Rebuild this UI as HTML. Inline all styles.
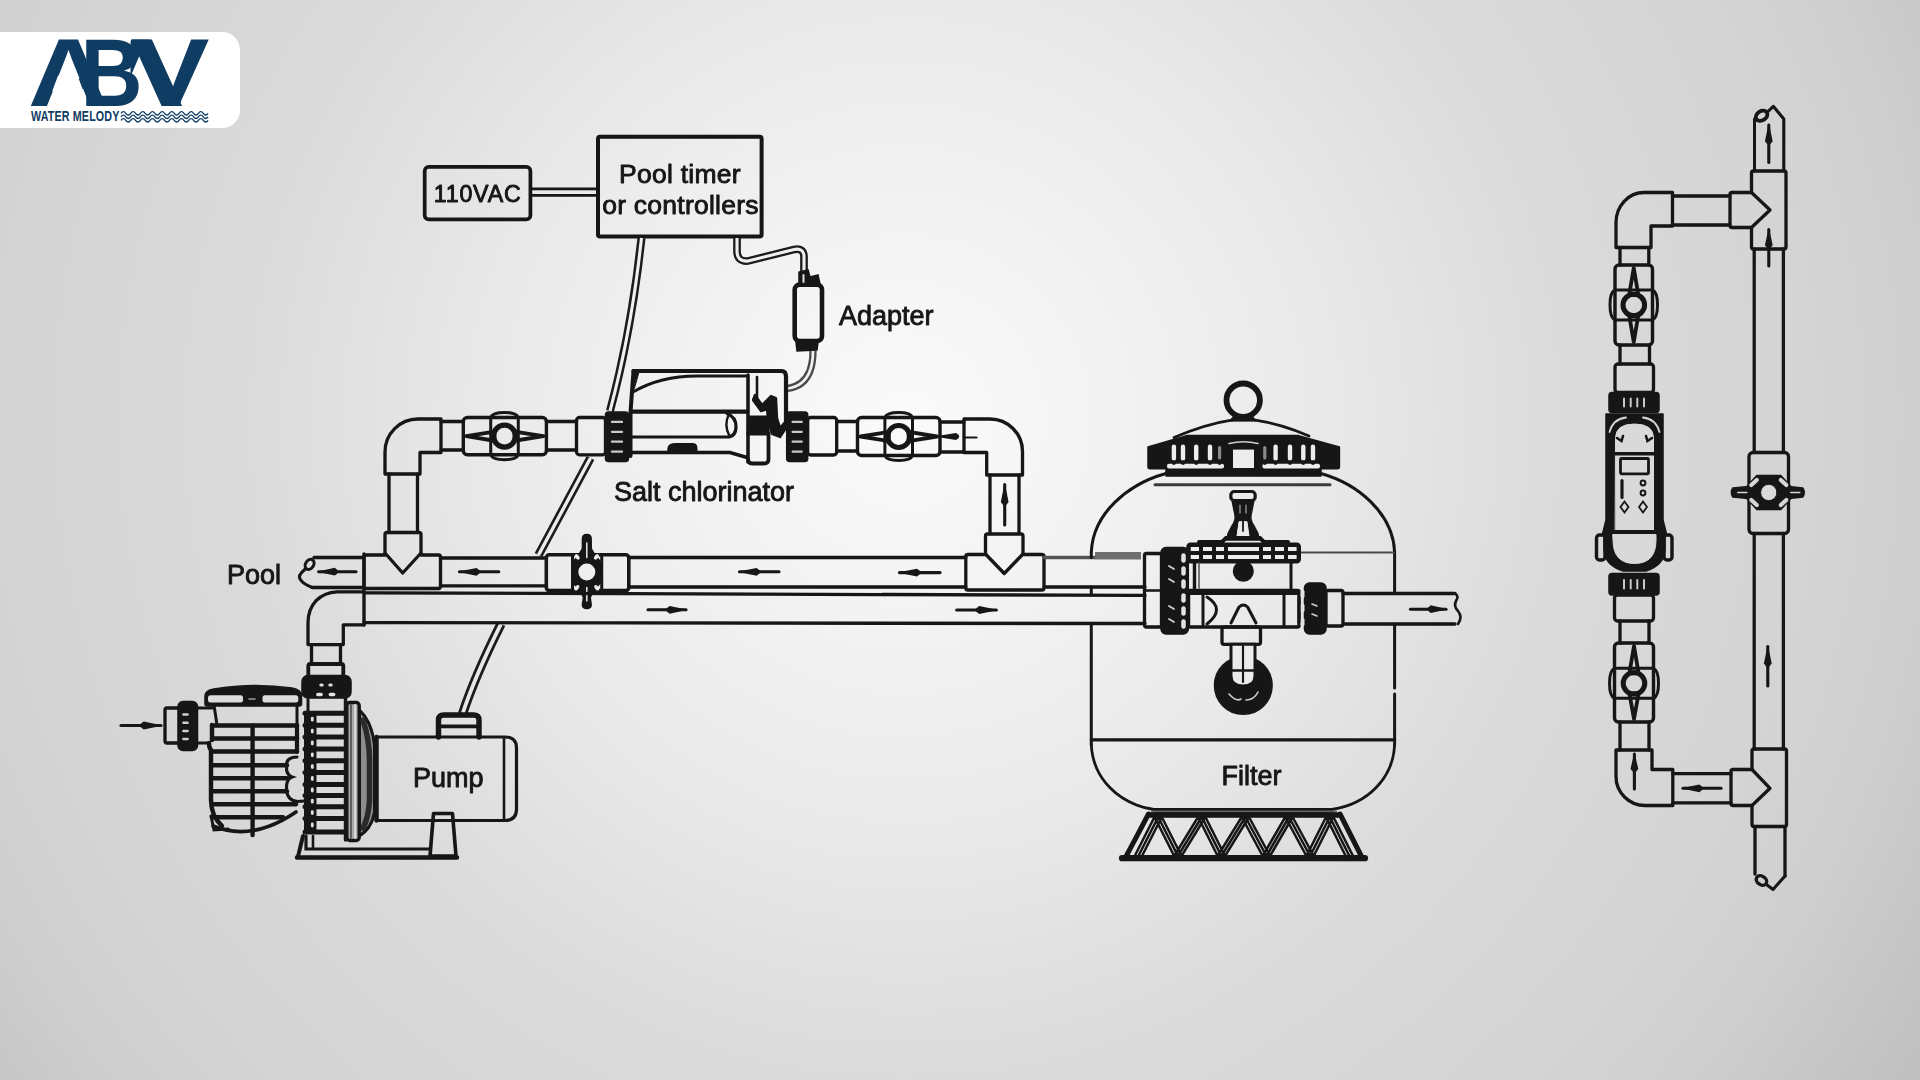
<!DOCTYPE html>
<html lang="en"><head><meta charset="utf-8"><title>Salt chlorinator installation diagram</title>
<style>
html,body{margin:0;padding:0;}
body{width:1920px;height:1080px;overflow:hidden;position:relative;
background:radial-gradient(circle 1210px at 905px 420px,#fafafa 0%,#f6f6f6 10%,#f1f1f1 20%,#e9e9e9 35%,#dbdbdb 54%,#d3d3d3 77%,#cecece 85%,#c7c7c7 92%,#bfbfbf 100%);
font-family:"Liberation Sans",sans-serif;}
.logo{position:absolute;left:0;top:32px;width:240px;height:96px;background:#fff;border-radius:0 18px 18px 0;}
svg{position:absolute;left:0;top:0;}
svg text{font-family:"Liberation Sans",sans-serif;}
#art text{fill:#141414;stroke:#141414;stroke-width:0.85px;stroke-linejoin:round;}
</style></head>
<body>
<div class="logo"></div>
<svg width="1920" height="1080" viewBox="0 0 1920 1080">
<defs><filter id="soft" x="-2%" y="-2%" width="104%" height="104%"><feGaussianBlur stdDeviation="0.55"/></filter></defs>
<g id="logo">
<clipPath id="a2clip"><rect x="130.5" y="30" width="100" height="80"/></clipPath>
<g font-family="Liberation Sans, sans-serif" font-weight="bold" fill="#0f3c63">
<g transform="translate(27.9,106.3) scale(1.156,1)"><text font-size="97" x="0" y="0">A</text><polygon points="26.0,-30.5 43.0,-30.5 48.0,-15 21.0,-15" fill="#ffffff"/></g>
<g clip-path="url(#a2clip)"><g transform="translate(98,106.3) scale(1.246,1)"><text font-size="97" x="0" y="0">A</text><polygon points="26.0,-30.5 43.0,-30.5 48.0,-15 21.0,-15" fill="#ffffff"/></g></g>
<text transform="translate(80.5,106.3) scale(0.885,1)" font-size="97" x="0" y="0">B</text>
<text transform="translate(130.8,106.3) scale(1.218,1)" font-size="97" x="0" y="0">V</text>
<text transform="translate(31,121.3) scale(0.735,1)" font-size="14.6" x="0" y="0" letter-spacing="0.2">WATER MELODY</text>
</g>
<path d="M121,113.3 q2.42,-3.3 4.84,0 q2.42,3.3 4.84,0 q2.42,-3.3 4.84,0 q2.42,3.3 4.84,0 q2.42,-3.3 4.84,0 q2.42,3.3 4.84,0 q2.42,-3.3 4.84,0 q2.42,3.3 4.84,0 q2.42,-3.3 4.84,0 q2.42,3.3 4.84,0 q2.42,-3.3 4.84,0 q2.42,3.3 4.84,0 q2.42,-3.3 4.84,0 q2.42,3.3 4.84,0 q2.42,-3.3 4.84,0 q2.42,3.3 4.84,0 q2.42,-3.3 4.84,0 q2.42,3.3 4.84,0" fill="none" stroke="#0f3c63" stroke-width="1.35"/>
<path d="M121,116.8 q2.42,-3.3 4.84,0 q2.42,3.3 4.84,0 q2.42,-3.3 4.84,0 q2.42,3.3 4.84,0 q2.42,-3.3 4.84,0 q2.42,3.3 4.84,0 q2.42,-3.3 4.84,0 q2.42,3.3 4.84,0 q2.42,-3.3 4.84,0 q2.42,3.3 4.84,0 q2.42,-3.3 4.84,0 q2.42,3.3 4.84,0 q2.42,-3.3 4.84,0 q2.42,3.3 4.84,0 q2.42,-3.3 4.84,0 q2.42,3.3 4.84,0 q2.42,-3.3 4.84,0 q2.42,3.3 4.84,0" fill="none" stroke="#0f3c63" stroke-width="1.35"/>
<path d="M121,120.3 q2.42,-3.3 4.84,0 q2.42,3.3 4.84,0 q2.42,-3.3 4.84,0 q2.42,3.3 4.84,0 q2.42,-3.3 4.84,0 q2.42,3.3 4.84,0 q2.42,-3.3 4.84,0 q2.42,3.3 4.84,0 q2.42,-3.3 4.84,0 q2.42,3.3 4.84,0 q2.42,-3.3 4.84,0 q2.42,3.3 4.84,0 q2.42,-3.3 4.84,0 q2.42,3.3 4.84,0 q2.42,-3.3 4.84,0 q2.42,3.3 4.84,0 q2.42,-3.3 4.84,0 q2.42,3.3 4.84,0" fill="none" stroke="#0f3c63" stroke-width="1.35"/>
</g>
<g id="art" filter="url(#soft)" stroke-linecap="round">
<rect x="424.7" y="166.9" width="105.7" height="52.5" rx="4" stroke="#161616" stroke-width="3.7" fill="none" />
<text x="477.6" y="202.4" font-size="23.2" text-anchor="middle" font-weight="normal" letter-spacing="0.8">110VAC</text>
<line x1="531.0" y1="188.8" x2="597.0" y2="188.8" stroke="#161616" stroke-width="2.8" />
<line x1="531.0" y1="195.4" x2="597.0" y2="195.4" stroke="#161616" stroke-width="2.8" />
<rect x="598.0" y="136.8" width="163.6" height="99.8" rx="2" stroke="#161616" stroke-width="4.0" fill="none" />
<text x="680.0" y="183.0" font-size="26.5" text-anchor="middle" font-weight="normal" letter-spacing="0.25">Pool timer</text>
<text x="680.5" y="213.8" font-size="26.5" text-anchor="middle" font-weight="normal" letter-spacing="0.25">or controllers</text>
<path d="M641.5,238 C637,280 629,340 610,411" stroke="#1c1c1c" stroke-width="8.1" fill="none" stroke-linecap="butt"/>
<path d="M641.5,238 C637,280 629,340 610,411" stroke="#f0f0f0" stroke-width="3.0999999999999996" fill="none" stroke-linecap="butt"/>
<path d="M590.5,458 L538.5,555" stroke="#1c1c1c" stroke-width="8.6" fill="none" stroke-linecap="butt"/>
<path d="M590.5,458 L538.5,555" stroke="#ececec" stroke-width="3.4" fill="none" stroke-linecap="butt"/>
<path d="M501,624 C488,650 473,682 462.5,714" stroke="#1c1c1c" stroke-width="9.399999999999999" fill="none" stroke-linecap="butt"/>
<path d="M501,624 C488,650 473,682 462.5,714" stroke="#e6e6e6" stroke-width="3.8" fill="none" stroke-linecap="butt"/>
<path d="M737,238 L737,251 Q737,262 748,261 L794,249.5 Q804,247.5 804,257 L804,272" stroke="#1c1c1c" stroke-width="7.7" fill="none" stroke-linecap="butt"/>
<path d="M737,238 L737,251 Q737,262 748,261 L794,249.5 Q804,247.5 804,257 L804,272" stroke="#f0f0f0" stroke-width="3.1000000000000005" fill="none" stroke-linecap="butt"/>
<rect x="794.7" y="284.6" width="27.3" height="56.4" rx="5" stroke="#161616" stroke-width="4.6" fill="none" />
<path d="M799,284 L799,272 L808,270 L810,277 L818,275 L820,284 Z" stroke="#161616" stroke-width="1.5" fill="#161616" />
<line x1="803.5" y1="275.0" x2="803.5" y2="282.0" stroke="#e0e0e0" stroke-width="2" />
<path d="M796,342 L818,342 L817,350 L797,351 Z" stroke="#161616" stroke-width="1.5" fill="#161616" />
<path d="M813,351 C813,372 806,386 787.5,388.5" stroke="#4a4a4a" stroke-width="7.3" fill="none" stroke-linecap="butt"/>
<path d="M813,351 C813,372 806,386 787.5,388.5" stroke="#f0f0f0" stroke-width="2.7" fill="none" stroke-linecap="butt"/>
<text x="839.0" y="325.3" font-size="27" text-anchor="start" font-weight="normal" >Adapter</text>
<path d="M441,419 H418 A33,33 0 0 0 385,452 V474 H420 V452.5 H441 Z" stroke="#161616" stroke-width="3.3" fill="none" stroke-linejoin="round"/>
<line x1="389.0" y1="474.0" x2="389.0" y2="532.5" stroke="#161616" stroke-width="3.3" />
<line x1="417.5" y1="474.0" x2="417.5" y2="532.5" stroke="#161616" stroke-width="3.3" />
<path d="M385,553 V534.5 Q385,532.5 387,532.5 H419 Q421,532.5 421,534.5 V553" stroke="#161616" stroke-width="3.3" fill="none" stroke-linejoin="round"/>
<path d="M385,553 L402.7,573 L421,553" stroke="#161616" stroke-width="3.3" fill="none" stroke-linejoin="round"/>
<line x1="441.0" y1="421.5" x2="463.0" y2="421.5" stroke="#161616" stroke-width="3.3" />
<line x1="441.0" y1="450.0" x2="463.0" y2="450.0" stroke="#161616" stroke-width="3.3" />
<rect x="463.3" y="417.5" width="83.1" height="37.3" rx="4" stroke="#161616" stroke-width="3.4" fill="none" />
<line x1="490.7" y1="417.5" x2="490.7" y2="454.8" stroke="#161616" stroke-width="3.0" />
<line x1="518.3" y1="417.5" x2="518.3" y2="454.8" stroke="#161616" stroke-width="3.0" />
<path d="M490.7,417.5 Q492.5,412.5 504.5,412.5 Q516.5,412.5 518.3,417.5" stroke="#161616" stroke-width="3.0" fill="none" />
<path d="M490.7,454.8 Q492.5,459.8 504.5,459.8 Q516.5,459.8 518.3,454.8" stroke="#161616" stroke-width="3.0" fill="none" />
<path d="M466.3,436.15 L494.5,431.54999999999995 L494.5,440.75 Z" stroke="#161616" stroke-width="3.8" fill="none" stroke-linejoin="round"/>
<path d="M543.4,436.15 L514.5,431.54999999999995 L514.5,440.75 Z" stroke="#161616" stroke-width="3.8" fill="none" stroke-linejoin="round"/>
<circle cx="504.5" cy="436.1" r="11.0" stroke="#161616" stroke-width="5.2" fill="none"/>
<line x1="546.4" y1="421.5" x2="576.5" y2="421.5" stroke="#161616" stroke-width="3.3" />
<line x1="546.4" y1="450.0" x2="576.5" y2="450.0" stroke="#161616" stroke-width="3.3" />
<rect x="576.5" y="417.5" width="29.0" height="37.3" rx="3" stroke="#161616" stroke-width="3.3" fill="none" />
<rect x="605.5" y="412.0" width="23.0" height="49.5" rx="3" stroke="#161616" stroke-width="1.5" fill="#141414" />
<line x1="611.9" y1="421.9" x2="622.1" y2="421.9" stroke="#c9c9c9" stroke-width="2.2" />
<line x1="611.9" y1="431.8" x2="622.1" y2="431.8" stroke="#c9c9c9" stroke-width="2.2" />
<line x1="611.9" y1="441.7" x2="622.1" y2="441.7" stroke="#c9c9c9" stroke-width="2.2" />
<line x1="611.9" y1="451.6" x2="622.1" y2="451.6" stroke="#c9c9c9" stroke-width="2.2" />
<path d="M633.5,371 H781 Q786,371 786,376.5 V421" stroke="#161616" stroke-width="4.2" fill="none" stroke-linejoin="round"/>
<path d="M633.5,371 L630.5,412 V456" stroke="#161616" stroke-width="4.0" fill="none" />
<path d="M634,372 L639,372 L634.5,388 Z" stroke="#161616" stroke-width="1" fill="#161616" />
<path d="M633,392 C650,382 672,375.5 700,376 H747" stroke="#161616" stroke-width="3.0" fill="none" />
<line x1="632.0" y1="411.7" x2="747.0" y2="411.7" stroke="#161616" stroke-width="4.2" />
<path d="M727,413.5 Q736,417 736,426.5 Q736,437 727,437 H632" stroke="#161616" stroke-width="3.2" fill="none" />
<path d="M729,414 Q723.5,425 729.5,436" stroke="#161616" stroke-width="2.4" fill="none" />
<path d="M632,452.5 H730 L747,457.5" stroke="#161616" stroke-width="3.6" fill="none" />
<path d="M668,447.5 Q668,443.5 676,443.5 H693 Q697,443.5 697,447.5 V451.5 H668 Z" stroke="#161616" stroke-width="1" fill="#161616" />
<line x1="748.0" y1="375.0" x2="748.0" y2="462.0" stroke="#161616" stroke-width="3.6" />
<line x1="757.0" y1="377.0" x2="757.0" y2="398.0" stroke="#161616" stroke-width="2.6" />
<path d="M748,433.5 H768.5 V459 Q768.5,463.5 764,463.5 H752 Q748,463.5 748,459" stroke="#161616" stroke-width="3.8" fill="none" />
<path d="M755,395 L762,405 L768,399 L771,396 L776,398 L777,418 L780,428 L786,421 L786,428 L780,437 L772,434 L768,420 L767,409 L761,411 L753,400 Z" stroke="#161616" stroke-width="2.4" fill="#161616" stroke-linejoin="round"/>
<path d="M750,416 H769 V433 H750 Z" stroke="#161616" stroke-width="1" fill="#161616" />
<rect x="786.7" y="412.0" width="21.0" height="49.5" rx="3" stroke="#161616" stroke-width="1.5" fill="#141414" />
<line x1="792.6" y1="421.9" x2="801.8" y2="421.9" stroke="#c9c9c9" stroke-width="2.2" />
<line x1="792.6" y1="431.8" x2="801.8" y2="431.8" stroke="#c9c9c9" stroke-width="2.2" />
<line x1="792.6" y1="441.7" x2="801.8" y2="441.7" stroke="#c9c9c9" stroke-width="2.2" />
<line x1="792.6" y1="451.6" x2="801.8" y2="451.6" stroke="#c9c9c9" stroke-width="2.2" />
<rect x="807.7" y="417.5" width="29.0" height="37.5" rx="3" stroke="#161616" stroke-width="3.3" fill="none" />
<line x1="836.7" y1="421.5" x2="857.5" y2="421.5" stroke="#161616" stroke-width="3.3" />
<line x1="836.7" y1="451.0" x2="857.5" y2="451.0" stroke="#161616" stroke-width="3.3" />
<rect x="857.5" y="417.5" width="82.5" height="38.0" rx="4" stroke="#161616" stroke-width="3.4" fill="none" />
<line x1="884.9" y1="417.5" x2="884.9" y2="455.5" stroke="#161616" stroke-width="3.0" />
<line x1="912.5" y1="417.5" x2="912.5" y2="455.5" stroke="#161616" stroke-width="3.0" />
<path d="M884.9000000000001,417.5 Q886.7,412.5 898.7,412.5 Q910.7,412.5 912.5,417.5" stroke="#161616" stroke-width="3.0" fill="none" />
<path d="M884.9000000000001,455.5 Q886.7,460.5 898.7,460.5 Q910.7,460.5 912.5,455.5" stroke="#161616" stroke-width="3.0" fill="none" />
<path d="M860.5,436.5 L888.7,431.9 L888.7,441.1 Z" stroke="#161616" stroke-width="3.8" fill="none" stroke-linejoin="round"/>
<path d="M937,436.5 L908.7,431.9 L908.7,441.1 Z" stroke="#161616" stroke-width="3.8" fill="none" stroke-linejoin="round"/>
<circle cx="898.7" cy="436.5" r="11.0" stroke="#161616" stroke-width="5.2" fill="none"/>
<path d="M939,436.5 L956,433.9 Q961,436.5 956,439.1 Z" stroke="#161616" stroke-width="1.6" fill="#161616" stroke-linejoin="round"/>
<line x1="940.0" y1="422.0" x2="964.0" y2="422.0" stroke="#161616" stroke-width="3.3" />
<line x1="940.0" y1="452.0" x2="964.0" y2="452.0" stroke="#161616" stroke-width="3.3" />
<path d="M964,419 H990 A32.5,32.5 0 0 1 1022.5,451.5 V475 H986.7 V452.5 H964 Z" stroke="#161616" stroke-width="3.3" fill="none" stroke-linejoin="round"/>
<line x1="964.0" y1="437.5" x2="976.5" y2="437.5" stroke="#161616" stroke-width="2.2" />
<line x1="990.0" y1="475.0" x2="990.0" y2="533.0" stroke="#161616" stroke-width="3.3" />
<line x1="1019.0" y1="475.0" x2="1019.0" y2="533.0" stroke="#161616" stroke-width="3.3" />
<line x1="1004.7" y1="484.5" x2="1004.7" y2="525.0" stroke="#161616" stroke-width="3.1" />
<polygon points="1004.7,482.5 1000.8,502.1 1004.7,507.1 1008.6,502.1" stroke="#161616" stroke-width="0" fill="#161616"/>
<path d="M985.5,554 V536 Q985.5,534 987.5,534 H1021 Q1023,534 1023,536 V554" stroke="#161616" stroke-width="3.3" fill="none" stroke-linejoin="round"/>
<path d="M985.5,554 L1004.2,573.5 L1023,554" stroke="#161616" stroke-width="3.3" fill="none" stroke-linejoin="round"/>
<text x="614.0" y="500.6" font-size="27" text-anchor="start" font-weight="normal" >Salt chlorinator</text>
<text x="227.0" y="584.3" font-size="27" text-anchor="start" font-weight="normal" >Pool</text>
<line x1="314.0" y1="557.5" x2="364.0" y2="557.5" stroke="#161616" stroke-width="3.3" />
<line x1="312.0" y1="587.5" x2="364.0" y2="587.5" stroke="#161616" stroke-width="3.3" />
<ellipse cx="309.6" cy="564.4" rx="4.0" ry="5.4" transform="rotate(32 309.6 564.4)" fill="none" stroke="#161616" stroke-width="3.1"/>
<path d="M305.3,569 Q297.5,575.5 300,579 Q303.5,584.5 312.5,587.4" stroke="#161616" stroke-width="3.2" fill="none" />
<line x1="318.7" y1="571.7" x2="356.0" y2="571.7" stroke="#161616" stroke-width="3.1" />
<polygon points="316.7,571.7 334.8,575.6 339.5,571.7 334.8,567.8" stroke="#161616" stroke-width="0" fill="#161616"/>
<path d="M385,555 H366 Q364,555 364,557 V586 Q364,588.5 366,588.5 H438.5 Q440.5,588.5 440.5,586 V557 Q440.5,555 438.5,555 H421" stroke="#161616" stroke-width="3.3" fill="none" stroke-linejoin="round"/>
<line x1="440.5" y1="558.0" x2="546.0" y2="558.0" stroke="#161616" stroke-width="3.3" />
<line x1="440.5" y1="585.8" x2="546.0" y2="585.8" stroke="#161616" stroke-width="3.3" />
<line x1="459.5" y1="571.8" x2="498.8" y2="571.8" stroke="#161616" stroke-width="3.1" />
<polygon points="457.5,571.8 476.5,575.7 481.5,571.8 476.5,567.9" stroke="#161616" stroke-width="0" fill="#161616"/>
<rect x="546.3" y="554.8" width="82.5" height="35.8" rx="3" stroke="#161616" stroke-width="3.6" fill="none" />
<line x1="572.5" y1="555.0" x2="572.5" y2="590.0" stroke="#161616" stroke-width="3.0" />
<line x1="601.7" y1="555.0" x2="601.7" y2="590.0" stroke="#161616" stroke-width="3.0" />
<path d="M572.1999999999999,563.1 L578.8,555.1 H594.8 L601.4,563.1 V581.1 L594.8,590.1 H578.8 L572.1999999999999,581.1 Z" stroke="#161616" stroke-width="1.6" fill="#161616" stroke-linejoin="round"/>
<path d="M582.4,539 Q582.4,534.6 586.8,534.6 Q591.1999999999999,534.6 591.1999999999999,539 V548.5 L595.8,556.6 H577.8 L582.4,548.5 Z" stroke="#161616" stroke-width="1.5" fill="#161616" stroke-linejoin="round"/>
<path d="M579.3,588.6 H594.3 L590.1999999999999,597.5 L591.1999999999999,604.6 Q591.1999999999999,608.6 586.8,608.6 Q582.4,608.6 582.4,604.6 L583.4,597.5 Z" stroke="#161616" stroke-width="1.5" fill="#161616" stroke-linejoin="round"/>
<line x1="586.8" y1="543.0" x2="586.8" y2="557.5" stroke="#ececec" stroke-width="1.5" />
<line x1="586.8" y1="587.5" x2="586.8" y2="601.0" stroke="#ececec" stroke-width="1.5" />
<ellipse cx="577.2" cy="556.9" rx="1.9" ry="3.1" transform="rotate(-38 577.2 556.9)" fill="#ececec"/>
<ellipse cx="577.2" cy="587.9" rx="1.9" ry="3.1" transform="rotate(38 577.2 587.3)" fill="#ececec"/>
<ellipse cx="596.4" cy="556.9" rx="1.9" ry="3.1" transform="rotate(38 596.4 556.9)" fill="#ececec"/>
<ellipse cx="596.4" cy="587.9" rx="1.9" ry="3.1" transform="rotate(-38 596.4 587.3)" fill="#ececec"/>
<circle cx="586.8" cy="572.1" r="8.5" stroke="#161616" stroke-width="0" fill="#efefef"/>
<line x1="628.7" y1="557.5" x2="965.8" y2="557.5" stroke="#161616" stroke-width="3.3" />
<line x1="628.7" y1="587.0" x2="965.8" y2="587.0" stroke="#161616" stroke-width="3.3" />
<line x1="739.5" y1="571.8" x2="779.0" y2="571.8" stroke="#161616" stroke-width="3.1" />
<polygon points="737.5,571.8 756.6,575.7 761.6,571.8 756.6,567.9" stroke="#161616" stroke-width="0" fill="#161616"/>
<line x1="899.5" y1="572.6" x2="940.0" y2="572.6" stroke="#161616" stroke-width="3.1" />
<polygon points="897.5,572.6 917.0,576.5 922.1,572.6 917.0,568.7" stroke="#161616" stroke-width="0" fill="#161616"/>
<path d="M985.5,554.5 H968 Q965.8,554.5 965.8,556.5 V588 Q965.8,590 968,590 H1042 Q1044,590 1044,588 V556.5 Q1044,554.5 1042,554.5 H1023" stroke="#161616" stroke-width="3.3" fill="none" stroke-linejoin="round"/>
<line x1="1044.0" y1="557.5" x2="1095.0" y2="557.5" stroke="#555" stroke-width="3.3" />
<line x1="1044.0" y1="587.0" x2="1145.0" y2="587.0" stroke="#161616" stroke-width="3.3" />
<rect x="1095.0" y="552.0" width="46.0" height="7.5" rx="0" stroke="#161616" stroke-width="0" fill="#6e6e6e" />
<line x1="364.0" y1="554.0" x2="364.0" y2="625.0" stroke="#161616" stroke-width="3.4" />
<line x1="364.0" y1="592.8" x2="1145.0" y2="595.4" stroke="#161616" stroke-width="3.3" />
<line x1="364.0" y1="622.7" x2="1145.0" y2="623.5" stroke="#161616" stroke-width="3.3" />
<line x1="686.0" y1="609.8" x2="648.0" y2="609.8" stroke="#161616" stroke-width="3.1" />
<polygon points="688.0,609.8 669.6,605.9 664.8,609.8 669.6,613.7" stroke="#161616" stroke-width="0" fill="#161616"/>
<line x1="996.3" y1="610.0" x2="956.7" y2="610.0" stroke="#161616" stroke-width="3.1" />
<polygon points="998.3,610.0 979.2,606.1 974.2,610.0 979.2,613.9" stroke="#161616" stroke-width="0" fill="#161616"/>
<path d="M364,591.8 H337 C320,592.5 308,604.5 308,623 V644.6 H343.3 V624.8 H364" stroke="#161616" stroke-width="3.3" fill="none" stroke-linejoin="round"/>
<line x1="311.5" y1="645.0" x2="311.5" y2="663.0" stroke="#161616" stroke-width="3.3" />
<line x1="340.5" y1="645.0" x2="340.5" y2="663.0" stroke="#161616" stroke-width="3.3" />
<path d="M308.3,676 V666 Q308.3,664 310.3,664 H341.3 Q343.3,664 343.3,666 V676" stroke="#161616" stroke-width="3.8" fill="none" stroke-linejoin="round"/>
<line x1="161.0" y1="725.5" x2="121.0" y2="725.5" stroke="#161616" stroke-width="3.1" />
<polygon points="163.0,725.5 143.7,721.6 138.6,725.5 143.7,729.4" stroke="#161616" stroke-width="0" fill="#161616"/>
<rect x="165.0" y="708.0" width="15.0" height="35.0" rx="2" stroke="#161616" stroke-width="3.3" fill="none" />
<rect x="178.0" y="701.5" width="19.5" height="49.0" rx="5" stroke="#161616" stroke-width="1.5" fill="#161616" />
<line x1="183.5" y1="714.5" x2="187.5" y2="714.5" stroke="#cfcfcf" stroke-width="2.6" />
<line x1="183.5" y1="722.8" x2="187.5" y2="722.8" stroke="#cfcfcf" stroke-width="2.6" />
<line x1="183.5" y1="731.0" x2="187.5" y2="731.0" stroke="#cfcfcf" stroke-width="2.6" />
<line x1="183.5" y1="739.0" x2="187.5" y2="739.0" stroke="#cfcfcf" stroke-width="2.6" />
<path d="M197.5,708 H213 M197.5,743 H209" stroke="#161616" stroke-width="3" fill="none" />
<path d="M205,703.5 V696 Q205,690.5 214,689 Q252,682.5 292,688 Q301.5,689.5 301.5,696 V703.5 Q301.5,706 299,706 H207.5 Q205,706 205,703.5 Z" stroke="#161616" stroke-width="1.6" fill="#161616" stroke-linejoin="round"/>
<rect x="208.0" y="695.3" width="35.0" height="7.1" rx="2.5" stroke="#161616" stroke-width="0" fill="#dcdcdc" />
<rect x="262.5" y="695.3" width="35.8" height="7.1" rx="2.5" stroke="#161616" stroke-width="0" fill="#dcdcdc" />
<line x1="249.0" y1="699.0" x2="255.0" y2="699.0" stroke="#9a9a9a" stroke-width="1.6" />
<line x1="214.0" y1="705.0" x2="217.0" y2="725.0" stroke="#161616" stroke-width="3" />
<line x1="297.0" y1="705.0" x2="297.0" y2="725.0" stroke="#161616" stroke-width="3" />
<path d="M212,725 V740 M209,743 Q209,748 211,750 V800 Q211,816 222,826" stroke="#161616" stroke-width="4.4" fill="none" />
<path d="M213,826 Q252,842 296,812" stroke="#161616" stroke-width="3.6" fill="none" />
<path d="M211,816 L214,830 L228,829" stroke="#161616" stroke-width="3" fill="none" />
<path d="M297,725 V752" stroke="#161616" stroke-width="4.2" fill="none" />
<line x1="212.0" y1="725.5" x2="297.0" y2="725.5" stroke="#161616" stroke-width="4.4" />
<line x1="212.0" y1="738.5" x2="297.0" y2="738.5" stroke="#161616" stroke-width="4.4" />
<line x1="212.0" y1="751.5" x2="297.0" y2="751.5" stroke="#161616" stroke-width="4.4" />
<line x1="212.0" y1="765.2" x2="287.0" y2="765.2" stroke="#161616" stroke-width="4.4" />
<line x1="212.0" y1="778.2" x2="287.0" y2="778.2" stroke="#161616" stroke-width="4.4" />
<line x1="212.0" y1="791.2" x2="287.0" y2="791.2" stroke="#161616" stroke-width="4.4" />
<line x1="212.0" y1="804.2" x2="296.0" y2="804.2" stroke="#161616" stroke-width="4.4" />
<line x1="212.0" y1="817.2" x2="283.0" y2="817.2" stroke="#161616" stroke-width="4.4" />
<line x1="252.6" y1="725.5" x2="252.6" y2="835.0" stroke="#161616" stroke-width="4.4" />
<path d="M297,757 Q286,757 286.5,766 Q286,775 292,777 Q286,779 286.5,789 Q287,801 298,801.5 L304,801" stroke="#161616" stroke-width="3.2" fill="none" />
<rect x="302.0" y="675.5" width="49.0" height="22.5" rx="6" stroke="#161616" stroke-width="1.5" fill="#161616" />
<line x1="320.9" y1="685.0" x2="322.1" y2="685.0" stroke="#dedede" stroke-width="3.2" />
<line x1="329.9" y1="685.0" x2="331.1" y2="685.0" stroke="#dedede" stroke-width="3.2" />
<line x1="317.9" y1="694.5" x2="321.1" y2="694.5" stroke="#e4e4e4" stroke-width="3.6" />
<line x1="330.4" y1="694.5" x2="333.6" y2="694.5" stroke="#e4e4e4" stroke-width="3.6" />
<line x1="308.0" y1="699.0" x2="308.0" y2="711.0" stroke="#161616" stroke-width="3" />
<line x1="345.5" y1="698.0" x2="345.5" y2="840.0" stroke="#161616" stroke-width="3.4" />
<rect x="309.5" y="701.5" width="34.0" height="9.5" rx="1.5" stroke="#161616" stroke-width="0" fill="none" />
<line x1="305.0" y1="713.3" x2="345.0" y2="713.3" stroke="#161616" stroke-width="5.0" />
<line x1="305.0" y1="725.2" x2="345.0" y2="725.2" stroke="#161616" stroke-width="5.0" />
<line x1="305.0" y1="737.0" x2="345.0" y2="737.0" stroke="#161616" stroke-width="5.0" />
<line x1="305.0" y1="748.9" x2="345.0" y2="748.9" stroke="#161616" stroke-width="5.0" />
<line x1="305.0" y1="760.7" x2="345.0" y2="760.7" stroke="#161616" stroke-width="5.0" />
<line x1="305.0" y1="772.6" x2="345.0" y2="772.6" stroke="#161616" stroke-width="5.0" />
<line x1="305.0" y1="784.4" x2="345.0" y2="784.4" stroke="#161616" stroke-width="5.0" />
<line x1="305.0" y1="795.6" x2="345.0" y2="795.6" stroke="#161616" stroke-width="5.0" />
<line x1="305.0" y1="806.7" x2="345.0" y2="806.7" stroke="#161616" stroke-width="5.0" />
<line x1="305.0" y1="818.5" x2="345.0" y2="818.5" stroke="#161616" stroke-width="5.0" />
<line x1="305.0" y1="831.9" x2="345.0" y2="831.9" stroke="#161616" stroke-width="5.0" />
<rect x="304.0" y="712.0" width="12.5" height="122.0" rx="0" stroke="#161616" stroke-width="0" fill="#161616" />
<line x1="312.3" y1="718.2" x2="312.3" y2="720.2" stroke="#e0e0e0" stroke-width="2.8" />
<line x1="312.3" y1="730.1" x2="312.3" y2="732.1" stroke="#e0e0e0" stroke-width="2.8" />
<line x1="312.3" y1="742.0" x2="312.3" y2="744.0" stroke="#e0e0e0" stroke-width="2.8" />
<line x1="312.3" y1="753.8" x2="312.3" y2="755.8" stroke="#e0e0e0" stroke-width="2.8" />
<line x1="312.3" y1="765.6" x2="312.3" y2="767.6" stroke="#e0e0e0" stroke-width="2.8" />
<line x1="312.3" y1="777.5" x2="312.3" y2="779.5" stroke="#e0e0e0" stroke-width="2.8" />
<line x1="312.3" y1="789.0" x2="312.3" y2="791.0" stroke="#e0e0e0" stroke-width="2.8" />
<line x1="312.3" y1="800.2" x2="312.3" y2="802.2" stroke="#e0e0e0" stroke-width="2.8" />
<line x1="312.3" y1="811.6" x2="312.3" y2="813.6" stroke="#e0e0e0" stroke-width="2.8" />
<line x1="312.3" y1="824.0" x2="312.3" y2="826.0" stroke="#e0e0e0" stroke-width="2.8" />
<rect x="346.8" y="702.5" width="12.4" height="138.0" rx="3" stroke="#161616" stroke-width="3.4" fill="#a8a8a8" />
<line x1="351.0" y1="705.0" x2="351.0" y2="838.0" stroke="#555" stroke-width="1.8" />
<line x1="355.2" y1="705.0" x2="355.2" y2="838.0" stroke="#d8d8d8" stroke-width="2.2" />
<path d="M359.5,710 Q372,722 374.5,745 V812 Q372,828 359.5,836 Z" stroke="#161616" stroke-width="3.0" fill="#8c8c8c" />
<path d="M363,720 Q369.5,740 369.5,760 V800 Q368.5,818 363,828" stroke="#2a2a2a" stroke-width="5.5" fill="none" />
<path d="M376.5,737 H505 Q516.5,737 516.5,748 V809 Q516.5,820.5 505,820.5 H376.5 Z" stroke="#161616" stroke-width="3.2" fill="none" stroke-linejoin="round"/>
<line x1="376.5" y1="737.0" x2="376.5" y2="820.5" stroke="#161616" stroke-width="4.4" />
<path d="M504,738 V820" stroke="#161616" stroke-width="2.6" fill="none" />
<path d="M438.5,737 V720 Q438.5,715 444,715 H473.5 Q479,715 479,720 V737" stroke="#161616" stroke-width="5.4" fill="none" stroke-linejoin="round"/>
<line x1="441.0" y1="726.4" x2="477.0" y2="726.4" stroke="#161616" stroke-width="3.8" />
<text x="413.0" y="786.6" font-size="27" text-anchor="start" font-weight="normal" >Pump</text>
<path d="M433.5,813.5 H452.5 L456,856 H430 Z" stroke="#161616" stroke-width="3.6" fill="none" stroke-linejoin="round"/>
<path d="M303,836 L298,856.5" stroke="#161616" stroke-width="4" fill="none" />
<path d="M306,836 V849 H430" stroke="#161616" stroke-width="3.2" fill="none" />
<path d="M297,857.5 H457" stroke="#161616" stroke-width="4.4" fill="none" />
<line x1="313.0" y1="836.0" x2="313.0" y2="849.0" stroke="#161616" stroke-width="2.6" />
<circle cx="1243.2" cy="400.2" r="16.7" stroke="#161616" stroke-width="5.8" fill="none"/>
<path d="M1233,417 Q1243,412 1253,417 L1256,421 H1230 Z" stroke="#161616" stroke-width="1" fill="#161616" />
<path d="M1174,437.5 Q1205,424 1233,419.8 H1254 Q1282,424 1309,436" stroke="#161616" stroke-width="2.8" fill="none" />
<path d="M1186.6,435.6 H1298.5 L1339.4,447 V467 Q1339.4,468.7 1337.5,468.7 H1321 V476 H1166 V468.7 H1150 Q1148,468.7 1148,467 V447 Z" stroke="#161616" stroke-width="1.5" fill="#161616" stroke-linejoin="round"/>
<line x1="1173.9" y1="446.8" x2="1173.9" y2="458.6" stroke="#ededed" stroke-width="4.4" />
<line x1="1183.0" y1="446.8" x2="1183.0" y2="458.6" stroke="#ededed" stroke-width="4.4" />
<line x1="1196.2" y1="446.8" x2="1196.2" y2="458.6" stroke="#ededed" stroke-width="4.4" />
<line x1="1210.0" y1="446.8" x2="1210.0" y2="458.6" stroke="#ededed" stroke-width="4.4" />
<line x1="1275.6" y1="446.8" x2="1275.6" y2="458.6" stroke="#ededed" stroke-width="4.4" />
<line x1="1290.0" y1="446.8" x2="1290.0" y2="458.6" stroke="#ededed" stroke-width="4.4" />
<line x1="1303.3" y1="446.8" x2="1303.3" y2="458.6" stroke="#ededed" stroke-width="4.4" />
<line x1="1313.0" y1="446.8" x2="1313.0" y2="458.6" stroke="#ededed" stroke-width="4.4" />
<line x1="1219.6" y1="447.5" x2="1219.6" y2="458.0" stroke="#8a8a8a" stroke-width="3.2" />
<line x1="1264.8" y1="447.5" x2="1264.8" y2="458.0" stroke="#8a8a8a" stroke-width="3.2" />
<rect x="1233.0" y="449.6" width="21.0" height="18.4" rx="0" stroke="#161616" stroke-width="0" fill="#ededed" />
<path d="M1229,443.5 Q1243.5,440 1258,443.5" stroke="#cfcfcf" stroke-width="1.6" fill="none" />
<rect x="1167.0" y="463.8" width="57.0" height="4.6" rx="2" stroke="#161616" stroke-width="0" fill="#ededed" />
<rect x="1262.4" y="463.8" width="57.6" height="4.6" rx="2" stroke="#161616" stroke-width="0" fill="#ededed" />
<circle cx="1173.9" cy="462.6" r="2.3" stroke="#161616" stroke-width="0" fill="#161616"/>
<circle cx="1183.0" cy="462.6" r="2.3" stroke="#161616" stroke-width="0" fill="#161616"/>
<circle cx="1196.2" cy="462.6" r="2.3" stroke="#161616" stroke-width="0" fill="#161616"/>
<circle cx="1210.0" cy="462.6" r="2.3" stroke="#161616" stroke-width="0" fill="#161616"/>
<circle cx="1219.6" cy="462.6" r="2.3" stroke="#161616" stroke-width="0" fill="#161616"/>
<circle cx="1264.8" cy="462.6" r="2.3" stroke="#161616" stroke-width="0" fill="#161616"/>
<circle cx="1275.6" cy="462.6" r="2.3" stroke="#161616" stroke-width="0" fill="#161616"/>
<circle cx="1290.0" cy="462.6" r="2.3" stroke="#161616" stroke-width="0" fill="#161616"/>
<circle cx="1303.3" cy="462.6" r="2.3" stroke="#161616" stroke-width="0" fill="#161616"/>
<circle cx="1313.0" cy="462.6" r="2.3" stroke="#161616" stroke-width="0" fill="#161616"/>
<line x1="1155.0" y1="484.8" x2="1330.0" y2="484.8" stroke="#3a3a3a" stroke-width="3.0" />
<path d="M1166,473.5 C1128,484 1093,513 1091.3,552" stroke="#161616" stroke-width="3.0" fill="none" />
<path d="M1321,473.5 C1358,484 1393,513 1394.6,552" stroke="#161616" stroke-width="3.0" fill="none" />
<line x1="1091.3" y1="552.0" x2="1091.3" y2="557.5" stroke="#161616" stroke-width="3" />
<line x1="1091.3" y1="587.0" x2="1091.3" y2="593.5" stroke="#161616" stroke-width="3" />
<line x1="1091.3" y1="623.3" x2="1091.3" y2="745.0" stroke="#161616" stroke-width="3" />
<line x1="1394.6" y1="552.0" x2="1394.6" y2="593.5" stroke="#161616" stroke-width="3" />
<line x1="1394.6" y1="624.0" x2="1394.6" y2="688.0" stroke="#161616" stroke-width="3" />
<line x1="1394.6" y1="694.0" x2="1394.6" y2="745.0" stroke="#161616" stroke-width="3" />
<line x1="1299.0" y1="552.6" x2="1394.0" y2="552.6" stroke="#4a4a4a" stroke-width="2.0" />
<line x1="1091.3" y1="739.8" x2="1394.6" y2="739.8" stroke="#161616" stroke-width="3.3" />
<path d="M1091.3,745 C1093,778 1118,804 1154,809.5 H1332 C1368,804 1393,778 1394.6,745" stroke="#161616" stroke-width="2.8" fill="none" />
<line x1="1154.0" y1="812.0" x2="1332.0" y2="812.0" stroke="#161616" stroke-width="3.2" />
<text x="1251.5" y="785.0" font-size="27" text-anchor="middle" font-weight="normal" >Filter</text>
<line x1="1152.0" y1="811.5" x2="1336.0" y2="811.5" stroke="#666" stroke-width="2.2" />
<line x1="1149.0" y1="815.0" x2="1339.5" y2="815.0" stroke="#161616" stroke-width="5.6" />
<path d="M1148.5,814 L1125.5,857.5 M1340,814 L1362,857.5" stroke="#161616" stroke-width="5.0" fill="none" />
<line x1="1122.0" y1="858.2" x2="1365.0" y2="858.2" stroke="#161616" stroke-width="6.2" />
<path d="M1134.7,856 L1154.5,817 L1174.2,856 L1198.1,817 L1217.7,856 L1241.7,817 L1262.7,856 L1285.3,817 L1306.4,856 L1326.1,817 L1345.7,856" stroke="#161616" stroke-width="2.5" fill="none" stroke-linejoin="round"/>
<path d="M1138.4,856 L1158.2,817 L1177.9,856 L1201.8,817 L1221.4,856 L1245.4,817 L1266.4,856 L1289.0,817 L1310.1,856 L1329.8,817 L1349.4,856" stroke="#161616" stroke-width="2.5" fill="none" stroke-linejoin="round"/>
<path d="M1142.0,856 L1161.8,817 L1181.5,856 L1205.4,817 L1225.0,856 L1249.0,817 L1270.0,856 L1292.6,817 L1313.7,856 L1333.4,817 L1353.0,856" stroke="#161616" stroke-width="2.5" fill="none" stroke-linejoin="round"/>
<rect x="1144.5" y="553.5" width="17.0" height="73.5" rx="2" stroke="#161616" stroke-width="3.3" fill="none" />
<line x1="1144.5" y1="590.5" x2="1161.5" y2="590.5" stroke="#161616" stroke-width="2.6" />
<rect x="1161.0" y="547.5" width="27.3" height="86.5" rx="5" stroke="#161616" stroke-width="1.5" fill="#161616" />
<line x1="1183.5" y1="555.5" x2="1183.5" y2="560.5" stroke="#e2e2e2" stroke-width="4.5" />
<line x1="1183.5" y1="568.5" x2="1183.5" y2="573.5" stroke="#e2e2e2" stroke-width="4.5" />
<line x1="1183.5" y1="581.5" x2="1183.5" y2="586.5" stroke="#e2e2e2" stroke-width="4.5" />
<line x1="1183.5" y1="595.5" x2="1183.5" y2="600.5" stroke="#e2e2e2" stroke-width="4.5" />
<line x1="1183.5" y1="608.5" x2="1183.5" y2="613.5" stroke="#e2e2e2" stroke-width="4.5" />
<line x1="1183.5" y1="621.5" x2="1183.5" y2="626.5" stroke="#e2e2e2" stroke-width="4.5" />
<line x1="1169.0" y1="566.0" x2="1174.0" y2="569.0" stroke="#d0d0d0" stroke-width="1.8" />
<line x1="1169.0" y1="579.0" x2="1174.0" y2="582.0" stroke="#d0d0d0" stroke-width="1.8" />
<line x1="1169.0" y1="606.0" x2="1174.0" y2="609.0" stroke="#d0d0d0" stroke-width="1.8" />
<line x1="1169.0" y1="619.0" x2="1174.0" y2="622.0" stroke="#d0d0d0" stroke-width="1.8" />
<path d="M1232,500 L1235,515 Q1236,520 1232,526 Q1227.5,533 1226.5,540 H1259.5 Q1258.5,533 1254,526 Q1250,520 1251,515 L1254,500 Z" stroke="#161616" stroke-width="1.5" fill="#161616" stroke-linejoin="round"/>
<rect x="1230.8" y="491.5" width="24.4" height="9.0" rx="3.5" stroke="#161616" stroke-width="3.2" fill="#ebebeb" />
<path d="M1239,522 L1237,536 H1249 L1247,522 Z" stroke="#ebebeb" stroke-width="1" fill="#ebebeb" />
<line x1="1243.0" y1="521.0" x2="1243.0" y2="531.0" stroke="#161616" stroke-width="1.8" />
<line x1="1240.0" y1="505.0" x2="1240.0" y2="513.0" stroke="#aaa" stroke-width="1.2" />
<line x1="1246.0" y1="505.0" x2="1246.0" y2="513.0" stroke="#aaa" stroke-width="1.2" />
<path d="M1199,542 H1222 L1226,538 H1260 L1264,542 H1288" stroke="#161616" stroke-width="4" fill="none" />
<rect x="1188.5" y="544.8" width="110.3" height="16.5" rx="2" stroke="#161616" stroke-width="4.4" fill="none" />
<line x1="1191.0" y1="553.0" x2="1297.0" y2="553.0" stroke="#161616" stroke-width="4.2" />
<line x1="1201.0" y1="546.0" x2="1201.0" y2="560.0" stroke="#161616" stroke-width="4.0" />
<line x1="1214.0" y1="546.0" x2="1214.0" y2="560.0" stroke="#161616" stroke-width="4.0" />
<line x1="1226.0" y1="546.0" x2="1226.0" y2="560.0" stroke="#161616" stroke-width="4.0" />
<line x1="1261.0" y1="546.0" x2="1261.0" y2="560.0" stroke="#161616" stroke-width="4.0" />
<line x1="1273.0" y1="546.0" x2="1273.0" y2="560.0" stroke="#161616" stroke-width="4.0" />
<line x1="1286.0" y1="546.0" x2="1286.0" y2="560.0" stroke="#161616" stroke-width="4.0" />
<line x1="1194.5" y1="561.5" x2="1194.5" y2="590.0" stroke="#161616" stroke-width="3.4" />
<line x1="1291.0" y1="561.5" x2="1291.0" y2="590.0" stroke="#161616" stroke-width="3.0" />
<line x1="1199.0" y1="563.0" x2="1199.0" y2="588.0" stroke="#555" stroke-width="1.6" />
<circle cx="1243.3" cy="571.3" r="9.8" stroke="#161616" stroke-width="1.5" fill="#161616"/>
<rect x="1188.5" y="590.5" width="110.5" height="36.5" rx="1.5" stroke="#161616" stroke-width="3.4" fill="none" />
<line x1="1188.5" y1="592.5" x2="1299.0" y2="592.5" stroke="#161616" stroke-width="5" />
<line x1="1203.0" y1="594.0" x2="1203.0" y2="626.0" stroke="#161616" stroke-width="3" />
<line x1="1284.0" y1="594.0" x2="1284.0" y2="626.0" stroke="#161616" stroke-width="3" />
<path d="M1207,597 Q1226,609 1207,624" stroke="#161616" stroke-width="3" fill="none" />
<path d="M1231,623 L1239,607 Q1243.3,603 1247.6,607 L1256,623" stroke="#161616" stroke-width="3" fill="none" />
<rect x="1304.5" y="583.0" width="21.5" height="51.0" rx="5" stroke="#161616" stroke-width="1.5" fill="#161616" />
<line x1="1302.5" y1="591.5" x2="1302.5" y2="596.5" stroke="#e2e2e2" stroke-width="4" />
<line x1="1302.5" y1="605.5" x2="1302.5" y2="610.5" stroke="#e2e2e2" stroke-width="4" />
<line x1="1302.5" y1="619.5" x2="1302.5" y2="624.5" stroke="#e2e2e2" stroke-width="4" />
<line x1="1299.0" y1="597.0" x2="1299.0" y2="622.0" stroke="#161616" stroke-width="3" />
<line x1="1312.0" y1="604.0" x2="1317.0" y2="606.0" stroke="#cfcfcf" stroke-width="1.6" />
<line x1="1312.0" y1="614.0" x2="1317.0" y2="616.0" stroke="#cfcfcf" stroke-width="1.6" />
<rect x="1326.0" y="590.5" width="17.0" height="35.5" rx="2" stroke="#161616" stroke-width="3.3" fill="none" />
<line x1="1343.0" y1="593.5" x2="1455.0" y2="593.5" stroke="#161616" stroke-width="3.3" />
<line x1="1343.0" y1="624.0" x2="1455.0" y2="624.0" stroke="#161616" stroke-width="3.3" />
<line x1="1446.0" y1="609.2" x2="1410.5" y2="609.2" stroke="#161616" stroke-width="3.1" />
<polygon points="1448.0,609.2 1430.8,605.3 1426.2,609.2 1430.8,613.1" stroke="#161616" stroke-width="0" fill="#161616"/>
<path d="M1455,593.5 Q1459,596 1456.5,600 Q1453,606 1458,611 Q1463,617 1458,624" stroke="#161616" stroke-width="2.6" fill="none" />
<rect x="1222.0" y="627.0" width="38.5" height="17.3" rx="2" stroke="#161616" stroke-width="3.3" fill="none" />
<circle cx="1243.3" cy="685.5" r="28.8" stroke="#161616" stroke-width="1.5" fill="#161616"/>
<path d="M1231,644.3 V676 Q1231,686 1243,686 Q1255,686 1255,676 V644.3 Z" stroke="#161616" stroke-width="3" fill="#ebebeb" />
<line x1="1243.0" y1="646.0" x2="1243.0" y2="682.0" stroke="#161616" stroke-width="2.2" />
<line x1="1231.0" y1="670.5" x2="1255.0" y2="670.5" stroke="#161616" stroke-width="2.4" />
<path d="M1229,694 Q1236,702 1241,699 M1246,700 Q1254,700 1258,692" stroke="#cfcfcf" stroke-width="1.6" fill="none" />
<line x1="1754.5" y1="171.0" x2="1754.5" y2="119.0" stroke="#161616" stroke-width="3.0" />
<ellipse cx="1761.6" cy="115.8" rx="6.2" ry="4.6" transform="rotate(-32 1761.6 115.8)" fill="none" stroke="#161616" stroke-width="3.8"/>
<path d="M1767.5,112 L1773.3,106.3 L1783.8,119 V171" stroke="#161616" stroke-width="3.1" fill="none" stroke-linejoin="round"/>
<line x1="1768.8" y1="125.0" x2="1768.8" y2="162.5" stroke="#161616" stroke-width="3.1" />
<polygon points="1768.8,123.0 1764.9,141.2 1768.8,145.9 1772.7,141.2" stroke="#161616" stroke-width="0" fill="#161616"/>
<path d="M1751.5,192.5 V173 Q1751.5,171 1753.5,171 H1784 Q1786,171 1786,173 V247 Q1786,249 1784,249 H1753.5 Q1751.5,249 1751.5,247 V227.5" stroke="#161616" stroke-width="3.3" fill="none" stroke-linejoin="round"/>
<path d="M1751.5,192.5 L1770,210 L1751.5,227.5" stroke="#161616" stroke-width="3.3" fill="none" stroke-linejoin="round"/>
<path d="M1751.5,192.5 H1732 Q1730,192.5 1730,194.5 V225.5 Q1730,227.5 1732,227.5 H1751.5" stroke="#161616" stroke-width="3.3" fill="none" stroke-linejoin="round"/>
<line x1="1768.8" y1="229.5" x2="1768.8" y2="266.0" stroke="#161616" stroke-width="3.1" />
<polygon points="1768.8,227.5 1764.9,245.2 1768.8,249.8 1772.7,245.2" stroke="#161616" stroke-width="0" fill="#161616"/>
<line x1="1754.2" y1="249.0" x2="1754.2" y2="452.5" stroke="#161616" stroke-width="3.3" />
<line x1="1783.4" y1="249.0" x2="1783.4" y2="452.5" stroke="#161616" stroke-width="3.3" />
<rect x="1749.0" y="452.5" width="39.5" height="81.0" rx="4" stroke="#161616" stroke-width="3.3" fill="none" />
<path d="M1756.8,475.5 L1780.8,475.5 L1791.8,487.5 L1791.8,497.5 L1780.8,509.5 L1756.8,509.5 L1745.8,497.5 L1745.8,487.5 Z" stroke="#161616" stroke-width="1.5" fill="#161616" stroke-linejoin="round"/>
<path d="M1748.8,486.5 L1732.8,488.0 Q1729.8,492.5 1732.8,497.0 L1748.8,498.5 Z" stroke="#161616" stroke-width="1.5" fill="#161616" stroke-linejoin="round"/>
<path d="M1788.8,486.5 L1802.8,488.0 Q1805.8,492.5 1802.8,497.0 L1788.8,498.5 Z" stroke="#161616" stroke-width="1.5" fill="#161616" stroke-linejoin="round"/>
<path d="M1756.8,480.0 L1751.3,485.0" stroke="#d6d6d6" stroke-width="4.2" fill="none" />
<path d="M1756.8,505.0 L1751.3,500.0" stroke="#d6d6d6" stroke-width="4.2" fill="none" />
<line x1="1746.8" y1="492.5" x2="1737.8" y2="492.5" stroke="#d6d6d6" stroke-width="1.6" />
<path d="M1780.8,480.0 L1786.3,485.0" stroke="#d6d6d6" stroke-width="4.2" fill="none" />
<path d="M1780.8,505.0 L1786.3,500.0" stroke="#d6d6d6" stroke-width="4.2" fill="none" />
<line x1="1790.8" y1="492.5" x2="1799.8" y2="492.5" stroke="#d6d6d6" stroke-width="1.6" />
<circle cx="1768.8" cy="492.5" r="8.2" stroke="#161616" stroke-width="1" fill="#d9d9d9"/>
<line x1="1754.2" y1="533.5" x2="1754.2" y2="749.0" stroke="#161616" stroke-width="3.3" />
<line x1="1783.4" y1="533.5" x2="1783.4" y2="749.0" stroke="#161616" stroke-width="3.3" />
<line x1="1767.8" y1="646.5" x2="1767.8" y2="686.0" stroke="#161616" stroke-width="3.1" />
<polygon points="1767.8,644.5 1763.9,663.6 1767.8,668.6 1771.7,663.6" stroke="#161616" stroke-width="0" fill="#161616"/>
<path d="M1752,769.5 V751 Q1752,749 1754,749 H1784.5 Q1786.5,749 1786.5,751 V824.5 Q1786.5,826.5 1784.5,826.5 H1754 Q1752,826.5 1752,824.5 V805.5" stroke="#161616" stroke-width="3.3" fill="none" stroke-linejoin="round"/>
<path d="M1752,769.5 L1770,788.3 L1752,805.5" stroke="#161616" stroke-width="3.3" fill="none" stroke-linejoin="round"/>
<path d="M1752,769.5 H1733 Q1731,769.5 1731,771.5 V803.5 Q1731,805.5 1733,805.5 H1752" stroke="#161616" stroke-width="3.3" fill="none" stroke-linejoin="round"/>
<line x1="1755.0" y1="826.5" x2="1755.0" y2="874.0" stroke="#161616" stroke-width="3.3" />
<line x1="1785.0" y1="826.5" x2="1785.0" y2="876.0" stroke="#161616" stroke-width="3.3" />
<ellipse cx="1761.5" cy="880.5" rx="5.6" ry="4.2" transform="rotate(35 1761.5 880.5)" fill="none" stroke="#161616" stroke-width="3.4"/>
<path d="M1766.5,884.5 L1773,889.5 L1785,876" stroke="#161616" stroke-width="3.1" fill="none" stroke-linejoin="round"/>
<line x1="1672.5" y1="196.0" x2="1730.0" y2="196.0" stroke="#161616" stroke-width="3.3" />
<line x1="1672.5" y1="225.0" x2="1730.0" y2="225.0" stroke="#161616" stroke-width="3.3" />
<path d="M1672.5,192.5 H1644 A28,30 0 0 0 1616,222.5 V247.5 H1651 V226 H1672.5 Z" stroke="#161616" stroke-width="3.3" fill="none" stroke-linejoin="round"/>
<line x1="1620.0" y1="247.5" x2="1620.0" y2="265.0" stroke="#161616" stroke-width="3.3" />
<line x1="1648.8" y1="247.5" x2="1648.8" y2="265.0" stroke="#161616" stroke-width="3.3" />
<rect x="1615.0" y="265.0" width="37.5" height="80.0" rx="4" stroke="#161616" stroke-width="3.4" fill="none" />
<line x1="1615.0" y1="290.0" x2="1652.5" y2="290.0" stroke="#161616" stroke-width="3.0" />
<line x1="1615.0" y1="320.0" x2="1652.5" y2="320.0" stroke="#161616" stroke-width="3.0" />
<path d="M1615,290 Q1610,292 1610,305 Q1610,318 1615,320" stroke="#161616" stroke-width="3.0" fill="none" />
<path d="M1652.5,290 Q1657.5,292 1657.5,305 Q1657.5,318 1652.5,320" stroke="#161616" stroke-width="3.0" fill="none" />
<path d="M1633.75,268 L1629.15,295 L1638.35,295 Z" stroke="#161616" stroke-width="3.8" fill="none" stroke-linejoin="round"/>
<path d="M1633.75,342 L1629.15,315 L1638.35,315 Z" stroke="#161616" stroke-width="3.8" fill="none" stroke-linejoin="round"/>
<circle cx="1633.8" cy="305.0" r="10.8" stroke="#161616" stroke-width="5.0" fill="none"/>
<line x1="1620.0" y1="345.0" x2="1620.0" y2="364.0" stroke="#161616" stroke-width="3.3" />
<line x1="1649.5" y1="345.0" x2="1649.5" y2="364.0" stroke="#161616" stroke-width="3.3" />
<rect x="1615.0" y="364.0" width="38.5" height="28.5" rx="3" stroke="#161616" stroke-width="3.3" fill="none" />
<rect x="1609.0" y="392.5" width="50.0" height="20.0" rx="3" stroke="#161616" stroke-width="1.5" fill="#141414" />
<line x1="1624.0" y1="398.5" x2="1624.0" y2="406.5" stroke="#c9c9c9" stroke-width="2.0" />
<line x1="1630.7" y1="398.5" x2="1630.7" y2="406.5" stroke="#c9c9c9" stroke-width="2.0" />
<line x1="1637.3" y1="398.5" x2="1637.3" y2="406.5" stroke="#c9c9c9" stroke-width="2.0" />
<line x1="1644.0" y1="398.5" x2="1644.0" y2="406.5" stroke="#c9c9c9" stroke-width="2.0" />
<path d="M1606,414 H1663 V520 L1666.5,534 H1602.5 L1606,520 Z" stroke="#161616" stroke-width="1.5" fill="#161616" stroke-linejoin="round"/>
<path d="M1615.5,438 Q1615.5,424 1634.5,424 Q1653.5,424 1653.5,438 V530.5 H1615.5 Z" stroke="#d9d9d9" stroke-width="1" fill="#d9d9d9" />
<path d="M1609.5,432 Q1613,419 1626,417.5 M1659.5,432 Q1656,419 1643,417.5" stroke="#d4d4d4" stroke-width="1.8" fill="none" />
<path d="M1617,438 L1621.5,441 L1623,436 M1652,438 L1647.5,441 L1646,436" stroke="#161616" stroke-width="2.6" fill="none" />
<line x1="1615.0" y1="453.8" x2="1654.0" y2="453.8" stroke="#161616" stroke-width="3.6" />
<rect x="1620.5" y="458.5" width="28.0" height="15.3" rx="1" stroke="#161616" stroke-width="2.8" fill="none" />
<line x1="1622.0" y1="480.5" x2="1622.0" y2="497.5" stroke="#161616" stroke-width="3.2" />
<circle cx="1643.0" cy="483.0" r="2.4" stroke="#161616" stroke-width="2.0" fill="none"/>
<circle cx="1643.0" cy="493.0" r="2.4" stroke="#161616" stroke-width="2.0" fill="none"/>
<polygon points="1624.5,501.5 1628.5,507.0 1624.5,512.5 1620.5,507.0" stroke="#161616" stroke-width="1.8" fill="none"/>
<polygon points="1643.0,501.5 1647.0,507.0 1643.0,512.5 1639.0,507.0" stroke="#161616" stroke-width="1.8" fill="none"/>
<line x1="1613.0" y1="531.5" x2="1656.0" y2="531.5" stroke="#161616" stroke-width="3.2" />
<path d="M1604,534 H1665 V548 Q1665,565 1646,571 H1623 Q1604,565 1604,548 Z" stroke="#161616" stroke-width="1.5" fill="#161616" stroke-linejoin="round"/>
<path d="M1613,534.5 H1656 V540 Q1656,563.5 1634.5,563.5 Q1613,563.5 1613,540 Z" stroke="#d9d9d9" stroke-width="1" fill="#d9d9d9" />
<rect x="1596.5" y="535.0" width="8.5" height="25.0" rx="3" stroke="#161616" stroke-width="3.4" fill="none" />
<rect x="1664.0" y="535.0" width="8.0" height="25.0" rx="3" stroke="#161616" stroke-width="3.4" fill="none" />
<rect x="1609.0" y="573.5" width="50.0" height="21.5" rx="3" stroke="#161616" stroke-width="1.5" fill="#141414" />
<line x1="1624.0" y1="580.0" x2="1624.0" y2="588.5" stroke="#c9c9c9" stroke-width="2.0" />
<line x1="1630.7" y1="580.0" x2="1630.7" y2="588.5" stroke="#c9c9c9" stroke-width="2.0" />
<line x1="1637.3" y1="580.0" x2="1637.3" y2="588.5" stroke="#c9c9c9" stroke-width="2.0" />
<line x1="1644.0" y1="580.0" x2="1644.0" y2="588.5" stroke="#c9c9c9" stroke-width="2.0" />
<rect x="1614.5" y="595.0" width="39.0" height="26.0" rx="3" stroke="#161616" stroke-width="3.3" fill="none" />
<line x1="1620.0" y1="621.0" x2="1620.0" y2="643.0" stroke="#161616" stroke-width="3.3" />
<line x1="1649.0" y1="621.0" x2="1649.0" y2="643.0" stroke="#161616" stroke-width="3.3" />
<rect x="1614.5" y="643.0" width="39.0" height="79.0" rx="4" stroke="#161616" stroke-width="3.4" fill="none" />
<line x1="1614.5" y1="668.3" x2="1653.5" y2="668.3" stroke="#161616" stroke-width="3.0" />
<line x1="1614.5" y1="698.3" x2="1653.5" y2="698.3" stroke="#161616" stroke-width="3.0" />
<path d="M1614.5,668.3 Q1609.5,670.3 1609.5,683.3 Q1609.5,696.3 1614.5,698.3" stroke="#161616" stroke-width="3.0" fill="none" />
<path d="M1653.5,668.3 Q1658.5,670.3 1658.5,683.3 Q1658.5,696.3 1653.5,698.3" stroke="#161616" stroke-width="3.0" fill="none" />
<path d="M1634.0,646 L1629.4,673.3 L1638.6,673.3 Z" stroke="#161616" stroke-width="3.8" fill="none" stroke-linejoin="round"/>
<path d="M1634.0,719 L1629.4,693.3 L1638.6,693.3 Z" stroke="#161616" stroke-width="3.8" fill="none" stroke-linejoin="round"/>
<circle cx="1634.0" cy="683.3" r="10.8" stroke="#161616" stroke-width="5.0" fill="none"/>
<line x1="1620.0" y1="722.0" x2="1620.0" y2="750.0" stroke="#161616" stroke-width="3.3" />
<line x1="1649.0" y1="722.0" x2="1649.0" y2="750.0" stroke="#161616" stroke-width="3.3" />
<path d="M1616,750 H1652 V769.5 H1672.8 V805.5 H1645 A29,29 0 0 1 1616,776.5 Z" stroke="#161616" stroke-width="3.3" fill="none" stroke-linejoin="round"/>
<line x1="1634.4" y1="754.0" x2="1634.4" y2="789.0" stroke="#161616" stroke-width="3.1" />
<polygon points="1634.4,752.0 1630.5,769.0 1634.4,773.5 1638.3,769.0" stroke="#161616" stroke-width="0" fill="#161616"/>
<line x1="1672.8" y1="773.6" x2="1731.0" y2="773.6" stroke="#161616" stroke-width="3.3" />
<line x1="1672.8" y1="802.8" x2="1731.0" y2="802.8" stroke="#161616" stroke-width="3.3" />
<line x1="1683.0" y1="788.3" x2="1721.0" y2="788.3" stroke="#161616" stroke-width="3.1" />
<polygon points="1681.0,788.3 1699.4,792.2 1704.2,788.3 1699.4,784.4" stroke="#161616" stroke-width="0" fill="#161616"/>
</g>
</svg>
</body></html>
